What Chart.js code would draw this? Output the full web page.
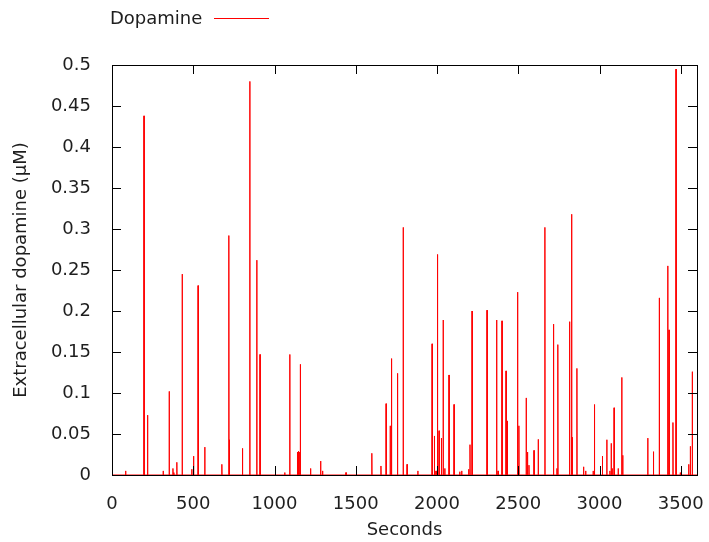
<!DOCTYPE html>
<html>
<head>
<meta charset="utf-8">
<script src="https://cdn.jsdelivr.net/npm/chart.js@4.4.0/dist/chart.umd.min.js"></script>
<style>
  html, body { margin: 0; padding: 0; background: #fff; }
  #wrap { width: 709px; height: 542px; }
</style>
</head>
<body>
<div id="wrap"><canvas id="chart_dopamine"></canvas></div>
<script>
// Dados (tempo em segundos, concentração em µM)
const seriesName = 'Dopamine';
const startValue = 0.21;
const spikeTimes = [84, 197, 219, 315, 352, 375, 381, 399, 432, 491, 502, 530, 571, 676, 719, 723, 803, 848, 891, 911,
    1063, 1094, 1141, 1146, 1151, 1159, 1222, 1284, 1296, 1440, 1599, 1655, 1687, 1712, 1720, 1757, 1792, 1816, 1882,
    1970, 1984, 1994, 2003, 2013, 2027, 2038, 2048, 2074, 2105, 2140, 2152, 2195, 2203, 2216, 2308, 2367, 2376, 2400,
    2425, 2433, 2496, 2504, 2549, 2557, 2566, 2597, 2623, 2664, 2717, 2738, 2744, 2816, 2828, 2831, 2861, 2902, 2915,
    2961, 2969, 3018, 3045, 3064, 3072, 3078, 3090, 3115, 3137, 3143, 3297, 3332, 3368, 3420, 3428, 3452, 3471, 3497,
    3549, 3559, 3571];
const spikeValues = [0.005, 0.438, 0.073, 0.005, 0.102, 0.008, 0.003, 0.0155, 0.245, 0.007, 0.023, 0.231, 0.034, 0.013, 0.292, 0.043, 0.0325, 0.480, 0.262, 0.147,
    0.003, 0.147, 0.028, 0.029, 0.028, 0.135, 0.008, 0.017, 0.005, 0.003, 0.0265, 0.011, 0.087, 0.060, 0.142, 0.124, 0.302, 0.013, 0.005,
    0.160, 0.0476, 0.005, 0.269, 0.054, 0.045, 0.189, 0.008, 0.122, 0.086, 0.004, 0.005, 0.007, 0.037, 0.200, 0.201, 0.189, 0.005, 0.188,
    0.127, 0.066, 0.223, 0.060, 0.094, 0.028, 0.012, 0.030, 0.0435, 0.302, 0.184, 0.008, 0.159, 0.187, 0.318, 0.046, 0.130, 0.010, 0.005,
    0.005, 0.086, 0.023, 0.043, 0.005, 0.0386, 0.008, 0.082, 0.008, 0.119, 0.024, 0.045, 0.0285, 0.216, 0.255, 0.177, 0.064, 0.495, 0.003,
    0.013, 0.035, 0.126];
const xTicks = [0, 500, 1000, 1500, 2000, 2500, 3000, 3500];
const yTicks = [0, 0.05, 0.1, 0.15, 0.2, 0.25, 0.3, 0.35, 0.4, 0.45, 0.5];

// monta a série: cada pico sobe e desce em 1 segundo
const points = [{ x: 0, y: startValue }, { x: 1, y: 0 }];
spikeTimes.forEach((t, i) => {
    points.push({ x: t - 1, y: 0 }, { x: t, y: spikeValues[i] }, { x: t + 1, y: 0 });
});
points.push({ x: 3600, y: 0 });

const fonte = 'DejaVu Sans';
const corTexto = '#1e1e1e';

const molduraGnuplot = { // moldura preta + marcas de escala para dentro (estilo gnuplot)
    id: 'molduraGnuplot',
    afterDatasetsDraw(chart) {
        const { ctx, chartArea: a, scales } = chart;
        ctx.save();
        ctx.strokeStyle = '#000';
        ctx.lineWidth = 1;
        ctx.strokeRect(Math.round(a.left) + 0.5, Math.round(a.top) + 0.5,
            Math.round(a.right - a.left), Math.round(a.bottom - a.top));
        ctx.beginPath();
        xTicks.forEach(v => {
            const px = Math.round(scales.x.getPixelForValue(v)) + 0.5;
            ctx.moveTo(px, a.bottom); ctx.lineTo(px, a.bottom - 9);
            ctx.moveTo(px, a.top); ctx.lineTo(px, a.top + 9);
        });
        yTicks.forEach(v => {
            const py = Math.round(scales.y.getPixelForValue(v)) + 0.5;
            ctx.moveTo(a.left, py); ctx.lineTo(a.left + 9, py);
            ctx.moveTo(a.right, py); ctx.lineTo(a.right - 9, py);
        });
        ctx.stroke();
        // legenda: texto e amostra de linha
        ctx.font = '18px "' + fonte + '"';
        ctx.fillStyle = corTexto;
        ctx.textBaseline = 'middle';
        ctx.textAlign = 'left';
        ctx.fillText(seriesName, 110, 19);
        ctx.strokeStyle = '#ff0000';
        ctx.beginPath();
        ctx.moveTo(214, 18.5); ctx.lineTo(269, 18.5);
        ctx.stroke();
        ctx.restore();
    }
};

new Chart(document.getElementById('chart_dopamine'), {
    type: 'line',
    data: {
        datasets: [{
            label: seriesName,
            data: points,
            borderColor: '#ff0000',
            borderWidth: 1,
            pointRadius: 0,
            tension: 0
        }]
    },
    options: {
        responsive: true,
        maintainAspectRatio: false,
        animation: false,
        layout: {
            padding: { top: 65, right: 12, left: 0, bottom: 0 }
        },
        scales: {
            x: {
                type: 'linear',
                min: 0,
                max: 3600,
                afterBuildTicks: axis => { axis.ticks = xTicks.map(v => ({ value: v })); },
                afterFit: axis => {
                    axis.height = 67;
                    axis.paddingLeft = 0;
                    axis.paddingRight = 0;
                },
                grid: { display: false },
                border: { display: false },
                ticks: {
                    padding: 11,
                    maxRotation: 0,
                    color: corTexto,
                    font: { family: fonte, size: 18 },
                    callback: v => String(v)
                },
                title: {
                    display: true,
                    text: 'Seconds',
                    color: corTexto,
                    font: { family: fonte, size: 18 },
                    padding: { top: 0, bottom: 1 }
                }
            },
            y: {
                min: 0,
                max: 0.5,
                afterBuildTicks: axis => { axis.ticks = yTicks.map(v => ({ value: v })); },
                afterFit: axis => {
                    axis.width = 112;
                    axis.paddingTop = 0;
                    axis.paddingBottom = 0;
                },
                grid: { display: false },
                border: { display: false },
                ticks: {
                    padding: 13,
                    color: corTexto,
                    font: { family: fonte, size: 18 },
                    callback: v => String(Math.round(v * 100) / 100)
                },
                title: {
                    display: true,
                    text: 'Extracellular dopamine (µM)',
                    color: corTexto,
                    font: { family: fonte, size: 18 },
                    padding: { top: 11, bottom: 0 }
                }
            }
        },
        plugins: {
            legend: { display: false },
            tooltip: { enabled: false }
        }
    },
    plugins: [molduraGnuplot]
});
</script>
</body>
</html>
